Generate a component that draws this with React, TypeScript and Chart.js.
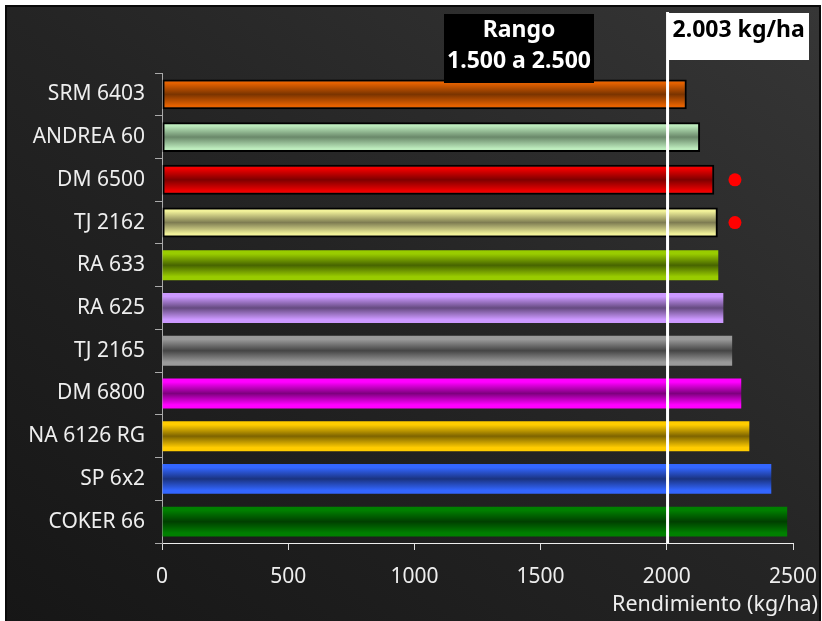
import React, { useEffect, useRef } from "react";
import { Chart, registerables } from "chart.js";

Chart.register(...registerables);

const categories = [
  "SRM 6403", "ANDREA 60", "DM 6500", "TJ 2162", "RA 633", "RA 625",
  "TJ 2165", "DM 6800", "NA 6126 RG", "SP 6x2", "COKER 66",
];
const yields = [2079, 2132, 2188, 2202, 2204, 2224, 2259, 2295, 2327, 2414, 2477];
const lightColors = [
  "#E66200", "#BDEBBD", "#F20000", "#F2F29A", "#99CC00", "#CC99FF",
  "#9A9A9A", "#FF00FF", "#FFCC00", "#3366FF", "#008000",
];
const darkColors = [
  "#7A3400", "#6A886A", "#7E0000", "#7E7C52", "#476400", "#654A80",
  "#454545", "#7E007E", "#7E6400", "#1A3380", "#003F00",
];
const bordered = [true, true, true, true, false, false, false, false, false, false, false];
const markerValues = [null, null, 2270, 2270, null, null, null, null, null, null, null];
const meanValue = 2003;
const meanLabel = "2.003 kg/ha";
const rangeLines = ["Rango", "1.500 a 2.500"];
const xTicks = [0, 500, 1000, 1500, 2000, 2500];
const xTitle = "Rendimiento (kg/ha)";

const FONT = "'Noto Sans', sans-serif";

export default function App() {
  const ref = useRef<HTMLCanvasElement>(null);

  useEffect(() => {
    if (!ref.current) return;

    const annotations = {
      id: "annotations",
      afterDatasetsDraw(chart: any) {
        const { ctx, chartArea, scales } = chart;
        const x = scales.x.getPixelForValue(meanValue);
        ctx.save();
        // mean line
        ctx.strokeStyle = "#ffffff";
        ctx.lineWidth = 3;
        ctx.beginPath();
        ctx.moveTo(x, 12);
        ctx.lineTo(x, chartArea.bottom);
        ctx.stroke();
        // mean label box
        ctx.fillStyle = "#ffffff";
        ctx.fillRect(x, 13, 809 - x, 47);
        ctx.fillStyle = "#000000";
        ctx.font = `bold 23px ${FONT}`;
        ctx.textAlign = "left";
        ctx.textBaseline = "middle";
        ctx.fillText(meanLabel, x + 5, 30);
        // range box
        ctx.fillStyle = "#000000";
        ctx.fillRect(444, 14, 150, 69);
        ctx.fillStyle = "#ffffff";
        ctx.textAlign = "center";
        ctx.fillText(rangeLines[0], 519, 30);
        ctx.fillText(rangeLines[1], 519, 61);
        // axis title
        ctx.fillStyle = "#eeeeee";
        ctx.font = `21.5px ${FONT}`;
        ctx.textAlign = "right";
        ctx.fillText(xTitle, 818, 605);
        ctx.restore();
      },
    };

    const barGradient = (c: any) => {
      const chart = c.chart;
      const ys = chart.scales?.y;
      const i = c.dataIndex;
      if (!ys || i === undefined || !chart.chartArea) return lightColors[i ?? 0];
      const center = ys.getPixelForValue(i);
      const half = (ys.height / categories.length) * 0.7 / 2;
      const g = chart.ctx.createLinearGradient(0, center - half, 0, center + half);
      g.addColorStop(0, lightColors[i]);
      g.addColorStop(0.12, lightColors[i]);
      g.addColorStop(0.5, darkColors[i]);
      g.addColorStop(0.88, lightColors[i]);
      g.addColorStop(1, lightColors[i]);
      return g;
    };

    const chart = new Chart(ref.current, {
      type: "bar",
      data: {
        labels: categories,
        datasets: [
          {
            type: "line",
            indexAxis: "y",
            data: markerValues as any,
            showLine: false,
            pointRadius: 6.5,
            pointHoverRadius: 6.5,
            pointBackgroundColor: "#FF0000",
            pointBorderWidth: 0,
            order: 0,
          } as any,
          {
            type: "bar",
            data: yields,
            backgroundColor: barGradient,
            borderColor: "#000000",
            borderWidth: bordered.map((b) => (b ? 2 : 0)),
            borderSkipped: false,
            barPercentage: 0.7,
            categoryPercentage: 1,
            order: 1,
          } as any,
        ],
      },
      options: {
        indexAxis: "y",
        animation: false,
        responsive: false,
        maintainAspectRatio: false,
        events: [],
        layout: { padding: { top: 73, right: 29, left: 0, bottom: 0 } },
        plugins: {
          legend: { display: false },
          tooltip: { enabled: false },
          title: { display: false },
        },
        scales: {
          x: {
            type: "linear",
            min: 0,
            max: 2500,
            afterFit: (s: any) => {
              s.height = 78;
              s.paddingLeft = 0;
              s.paddingRight = 0;
            },
            afterBuildTicks: (s: any) => { s.ticks = xTicks.map((v) => ({ value: v })); },
            grid: { drawOnChartArea: false, color: "#dddddd", tickLength: 7, tickColor: "#dddddd" },
            border: { color: "#eeeeee", width: 1 },
            ticks: {
              color: "#eeeeee",
              font: { family: FONT, size: 21 },
              padding: 14,
              callback: (v: any) => String(v),
            },
          },
          y: {
            type: "category",
            afterFit: (s: any) => {
              s.width = 162;
              s.paddingTop = 0;
              s.paddingBottom = 0;
            },
            grid: { drawOnChartArea: false, color: "#aaaaaa", tickLength: 7, offset: true },
            border: { color: "#aaaaaa", width: 1 },
            ticks: { color: "#eeeeee", font: { family: FONT, size: 21 }, padding: 10 },
          },
        },
      },
      plugins: [annotations],
    });
    return () => chart.destroy();
  }, []);

  return (
    <div style={{ position: "fixed", left: 0, top: 0, width: 822, height: 621, background: "#ffffff", overflow: "hidden" }}>
      <div
        style={{
          position: "absolute", left: 5, top: 5, width: 812, height: 620,
          border: "2px solid #0a0a0a",
          background: "linear-gradient(to top right, #161616 0%, #242424 50%, #363636 100%)",
        }}
      />
      <canvas ref={ref} width={822} height={621} style={{ position: "absolute", left: 0, top: 0 }} />
    </div>
  );
}
